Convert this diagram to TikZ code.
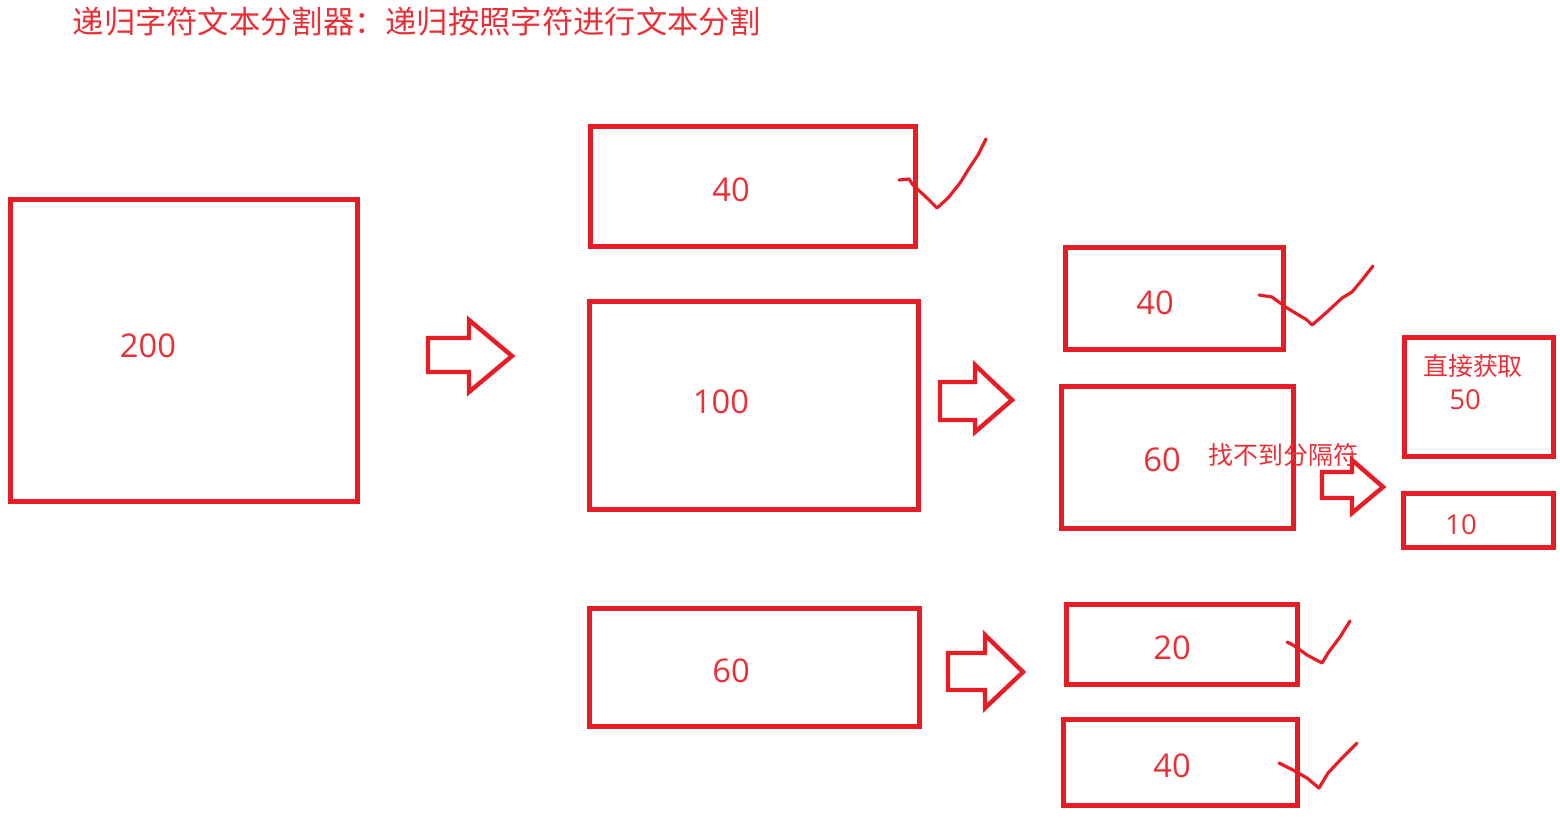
\documentclass[tikz,border=0pt]{standalone}
\usepackage{fontspec}
\setmainfont{Open Sans}
\newfontfamily\cjk{Noto Sans CJK SC}
\usetikzlibrary{fit}
\definecolor{rl}{RGB}{232,28,36}
\definecolor{rt}{RGB}{234,48,54}
\tikzset{
  box/.style={draw=rl, line width=1.45pt, inner sep=0pt, outer sep=0pt},
  blockarrow/.style={draw=rl, line width=1.25pt, line join=miter},
  tick/.style={draw=rl, line width=0.9pt, line join=round, line cap=round},
  num/.style={text=rt, font=\fontsize{9.3}{11}\selectfont, inner sep=0pt},
  smallnum/.style={text=rt, font=\fontsize{7.8}{10}\selectfont, inner sep=0pt},
  cjktext/.style={text=rt, font=\cjk\fontsize{7.1}{9}\selectfont, inner sep=0pt},
}
\begin{document}
\begin{tikzpicture}[x=0.01cm,y=-0.01cm]
\useasboundingbox (0,0) rectangle (1560,821);
% title
\node[text=rt, font=\cjk\fontsize{8.9}{10}\selectfont, anchor=west, inner sep=0pt] (title) at (72,22) {递归字符文本分割器：递归按照字符进行文本分割};
% boxes
\node[box, fit={(10.5,199.5) (357.5,501.5)}] (b200) {};
\node[box, fit={(590.5,126.5) (915.5,246.5)}] (b40a) {};
\node[box, fit={(589.5,301.5) (918.5,509.5)}] (b100) {};
\node[box, fit={(589.5,608.5) (919.5,726.5)}] (b60a) {};
\node[box, fit={(1065.5,247.5) (1283.5,349.5)}] (b40b) {};
\node[box, fit={(1061.5,386.5) (1293.5,528.5)}] (b60b) {};
\node[box, fit={(1404.5,337.5) (1553.5,456.5)}] (b50) {};
\node[box, fit={(1403.5,493.5) (1553.5,547.5)}] (b10) {};
\node[box, fit={(1066.5,604.5) (1297.5,684.5)}] (b20) {};
\node[box, fit={(1063.5,719.5) (1297.5,805.5)}] (b40c) {};
% labels
\node[num] (t200) at (148,346) {200};
\node[num] (t40a) at (731,190) {40};
\node[num] (t100) at (721,402) {100};
\node[num] (t60a) at (731,671) {60};
\node[num] (t40b) at (1155,303) {40};
\node[num] (t60b) at (1162,460) {60};
\node[cjktext] (tget) at (1473,366) {直接获取};
\node[smallnum] (t50) at (1465,400) {50};
\node[smallnum] (t10) at (1461,525) {10};
\node[num] (t20) at (1172,648) {20};
\node[num] (t40c) at (1172,766) {40};
\node[cjktext, anchor=west] (tnf) at (1208,455) {找不到分隔符};
% block arrows
\draw[blockarrow] (428,338) -- (469,338) -- (469,320) -- (512,356) -- (469,392) -- (469,372) -- (428,372) -- cycle;
\draw[blockarrow] (940,382) -- (975,382) -- (975,365) -- (1012,400) -- (975,432) -- (975,420) -- (940,420) -- cycle;
\draw[blockarrow] (948,653) -- (985,653) -- (985,635) -- (1023,672) -- (985,708) -- (985,690) -- (948,690) -- cycle;
\draw[blockarrow] (1322,472) -- (1352,472) -- (1352,460) -- (1383,487) -- (1352,513) -- (1352,498) -- (1322,498) -- cycle;
% check marks
\draw[tick] (899,180) -- (909,179) -- (913,185) -- (927,198) -- (937,208) -- (948,198) -- (960,183) -- (968,170) -- (978,155) -- (986,139);
\draw[tick] (1259,295) -- (1272,297) -- (1287,308) -- (1307,320) -- (1312,325) -- (1327,312) -- (1342,298) -- (1352,292) -- (1362,280) -- (1373,266);
\draw[tick] (1287,642) -- (1293,645) -- (1307,655) -- (1322,663) -- (1328,653) -- (1340,637) -- (1350,621);
\draw[tick] (1279,763) -- (1293,770) -- (1307,778) -- (1319,788) -- (1328,773) -- (1343,757) -- (1357,743);
\end{tikzpicture}
\end{document}
